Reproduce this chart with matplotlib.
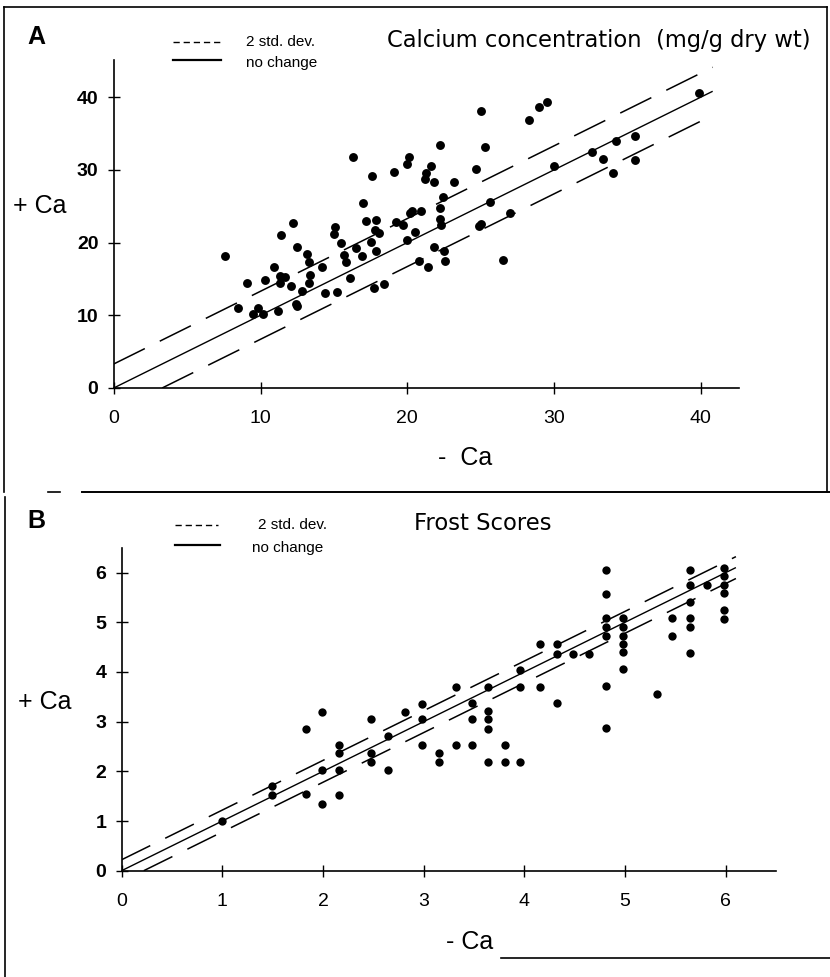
import matplotlib
matplotlib.use("Agg")
import matplotlib.pyplot as plt
from matplotlib.lines import Line2D

# ---------------- data ----------------
# Panel A: calcium concentration (mg/g dry wt)
minus_ca_A = [7.6, 9.1, 8.5, 10.3, 10.9, 11.4, 12.2, 12.5, 13.2, 13.3, 11.3, 11.7, 11.3, 12.1,
              13.4, 13.3, 12.8, 14.2, 9.5, 9.8, 10.2, 11.2, 12.4, 12.5, 14.4, 15.2, 16.1, 16.3,
              15.0, 15.1, 15.5, 15.7, 15.8, 16.5, 16.9, 17.0, 17.2, 17.6, 17.9, 17.8, 18.1, 17.5,
              17.9, 17.7, 18.4, 19.1, 20.0, 20.1, 19.2, 19.7, 20.2, 20.3, 20.5, 20.0, 20.8,
              25.0, 28.3, 29.0, 29.5, 39.9, 22.2, 25.3, 21.6, 21.3, 21.2, 21.8, 23.2, 24.7, 22.4,
              22.2, 22.2, 22.3, 20.9, 25.6, 24.9, 25.0, 27.0, 30.0, 32.6, 33.3, 34.2, 35.5, 35.5,
              34.0, 21.8, 22.5, 21.4, 22.6, 26.5]
plus_ca_A = [18.2, 14.4, 11.0, 14.9, 16.7, 21.0, 22.7, 19.4, 18.4, 17.3, 15.4, 15.2, 14.5, 14.0,
             15.5, 14.4, 13.4, 16.6, 10.2, 11.0, 10.2, 10.6, 11.5, 11.3, 13.0, 13.2, 15.1, 31.8,
             21.2, 22.1, 19.9, 18.3, 17.3, 19.2, 18.2, 25.5, 22.9, 29.1, 23.1, 21.7, 21.3, 20.1,
             18.9, 13.8, 14.3, 29.7, 30.8, 31.8, 22.8, 22.4, 24.0, 24.3, 21.4, 20.3, 17.5,
             38.1, 36.9, 38.6, 39.3, 40.6, 33.4, 33.1, 30.5, 29.6, 28.7, 28.3, 28.3, 30.1, 26.2,
             24.8, 23.3, 22.4, 24.4, 25.6, 22.3, 22.5, 24.0, 30.5, 32.4, 31.5, 34.0, 34.7, 31.4,
             29.5, 19.4, 18.8, 16.6, 17.4, 17.6]
sd2_A = 3.3          # 2 std. dev. band half-width
line_end_A = 40.8

# Panel B: frost scores
minus_ca_B = [1.00, 1.49, 1.49, 1.83, 1.83, 1.99, 1.99, 1.99, 2.16, 2.16, 2.16, 2.16, 2.48, 2.48,
              2.48, 2.65, 2.65, 2.81, 2.98, 2.98, 2.98, 3.15, 3.15, 3.32, 3.32, 3.48, 3.48, 3.48,
              3.64, 3.64, 3.64, 3.64, 3.64, 3.81, 3.81, 3.96, 3.96, 3.96,
              4.15, 4.15, 4.32, 4.32, 4.32, 4.48, 4.64, 4.81, 4.81, 4.81, 4.81, 4.81, 4.81, 4.81,
              4.98, 4.98, 4.98, 4.98, 4.98, 4.98, 5.32, 5.47, 5.47, 5.64, 5.64, 5.64, 5.64, 5.64,
              5.64, 5.81, 5.98, 5.98, 5.98, 5.98, 5.98, 5.98]
plus_ca_B = [1.01, 1.70, 1.52, 2.85, 1.54, 3.19, 2.03, 1.35, 2.52, 2.36, 2.03, 1.53, 3.05, 2.37,
             2.19, 2.71, 2.03, 3.20, 3.35, 3.05, 2.53, 2.37, 2.19, 3.70, 2.53, 3.37, 3.06, 2.53,
             3.70, 3.22, 3.05, 2.86, 2.19, 2.53, 2.19, 2.19, 4.04, 3.70,
             4.56, 3.70, 4.56, 4.37, 3.37, 4.37, 4.37, 6.06, 5.57, 5.08, 4.90, 4.73, 3.72, 2.88,
             5.08, 4.90, 4.73, 4.56, 4.40, 4.06, 3.56, 5.08, 4.73, 6.06, 5.75, 5.41, 5.08, 4.90,
             4.39, 5.75, 6.10, 5.93, 5.75, 5.58, 5.25, 5.06]
sd2_B = 0.22
line_end_B = 6.1

ticks_A = [0, 10, 20, 30, 40]
ticks_B = [0, 1, 2, 3, 4, 5, 6]

# ---------------- figure ----------------
W, H = 830, 977
plt.rcParams["lines.scale_dashes"] = False
fig = plt.figure(figsize=(W / 100, H / 100), dpi=100)
SANS = ["Liberation Sans", "DejaVu Sans"]


def fx(x):
    return x / W


def fy(y):
    return 1 - y / H


def fig_line(xs, ys, **kw):
    fig.add_artist(Line2D([fx(v) for v in xs], [fy(v) for v in ys],
                          transform=fig.transFigure, color="black", **kw))


def make_axes(rect, xlim, ylim, ticks_x, ticks_y):
    ax = fig.add_axes(rect)
    ax.set_xlim(*xlim)
    ax.set_ylim(*ylim)
    for s in ("top", "right"):
        ax.spines[s].set_visible(False)
    for s in ("left", "bottom"):
        ax.spines[s].set_linewidth(1.2)
    ax.set_xticks(ticks_x)
    ax.set_yticks(ticks_y)
    ax.tick_params(direction="inout", length=8, width=1.0)
    ax.tick_params(axis="x", pad=12)
    ax.tick_params(axis="y", pad=7)
    for lab in ax.get_xticklabels():
        lab.set_fontfamily(SANS)
        lab.set_fontsize(14)
    for lab in ax.get_yticklabels():
        lab.set_fontfamily(SANS)
        lab.set_fontsize(14)
        lab.set_fontweight("bold")
    ax.patch.set_alpha(0)
    return ax


def draw_panel(ax, xs, ys, sd, end, msize, dash):
    ax.plot([0, end], [0, end], color="black", lw=1.0, solid_capstyle="butt")
    ax.plot([0, end], [sd, end + sd], color="black", lw=1.1, linestyle=(0, dash))
    ax.plot([sd, end], [0, end - sd], color="black", lw=1.1, linestyle=(0, dash))
    ax.plot(xs, ys, linestyle="none", marker="o", markersize=msize,
            color="black", markeredgewidth=0, clip_on=False)


# Panel A axes: x 0..42.6 -> px 113.7..739 ; y 0..45.1 -> px 388..60
axA = make_axes([fx(113.7), fy(388), 625.4 / W, 328 / H], (0, 42.6), (0, 45.1), ticks_A, ticks_A)
draw_panel(axA, minus_ca_A, plus_ca_A, sd2_A, line_end_A, 6.4, (25, 12))

# Panel B axes: x 0..6.5 -> px 121.6..776 ; y 0..6.5 -> px 870.7..547.7
axB = make_axes([fx(121.6), fy(870.7), 654.6 / W, 323 / H], (0, 6.5), (0, 6.5), ticks_B, ticks_B)
draw_panel(axB, minus_ca_B, plus_ca_B, sd2_B, line_end_B, 6.0, (23, 12))

# ---------------- texts ----------------
def ftext(x, y, s, size, weight="normal", ha="center", family=SANS):
    fig.text(fx(x), fy(y), s, fontsize=size, fontweight=weight, ha=ha, va="center",
             family=family)


# Panel A header
ftext(36, 37, "A", 18, "bold")
ftext(599, 40, "Calcium concentration  (mg/g dry wt)", 16.3, family=["DejaVu Sans"])
fig_line([173, 220], [42, 42], lw=1.0, linestyle=(0, (4.5, 2.8)))
ftext(246, 42, "2 std. dev.", 11, ha="left")
fig_line([173, 221], [60, 60], lw=1.6)
ftext(246, 63, "no change", 11, ha="left")
ftext(40, 206, "+ Ca", 18)
ftext(465, 458, "-  Ca", 18)

# Panel B header
ftext(36, 521, "B", 18, "bold")
ftext(483, 523, "Frost Scores", 16.3, family=["DejaVu Sans"])
fig_line([175, 218], [525, 525], lw=1.0, linestyle=(0, (4.5, 2.8)))
ftext(258, 525, "2 std. dev.", 11, ha="left")
fig_line([175, 220], [545, 545], lw=1.6)
ftext(252, 548, "no change", 11, ha="left")
ftext(45, 702, "+ Ca", 18)
ftext(470, 942, "- Ca", 18)

# ---------------- frame lines ----------------
fig_line([4, 4], [7, 492], lw=1.2)
fig_line([4, 827], [7, 7], lw=1.2)
fig_line([827, 827], [7, 492], lw=1.2)
fig_line([82, 830], [492, 492], lw=1.4)
fig_line([48, 60], [492, 492], lw=1.2)
fig_line([5, 5], [497, 977], lw=1.2)
fig_line([501, 830], [958, 958], lw=1.2)

fig.savefig("out.png", dpi=100)
